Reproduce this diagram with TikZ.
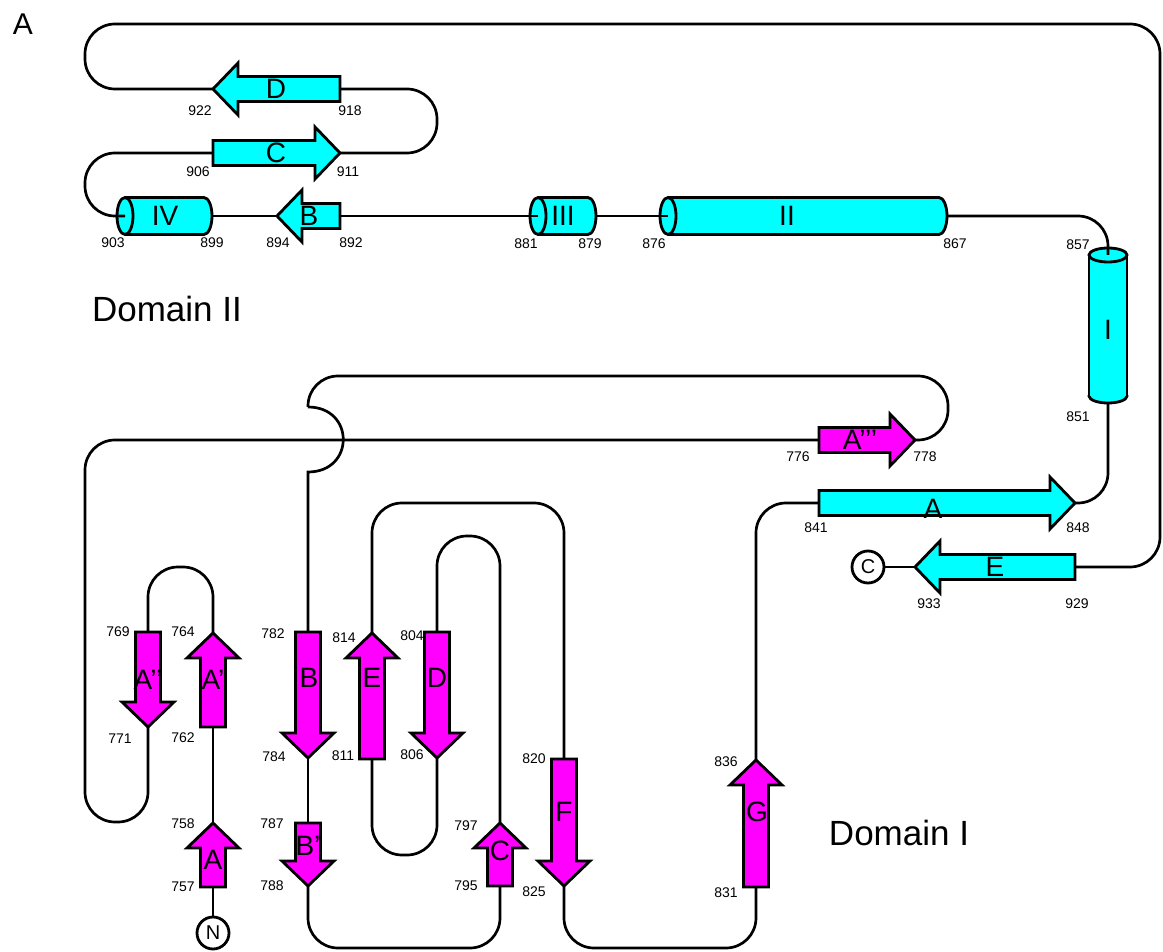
\documentclass[tikz,border=0pt]{standalone}
\usepackage{fontspec}
\setmainfont{Liberation Sans}
\usepackage{tikz}
\usetikzlibrary{calc}

\definecolor{sheetmag}{RGB}{255,0,255}
\definecolor{helixcyan}{RGB}{0,255,255}

% strand: name, colour, start, tip, label, label position
\newcommand{\strand}[6]{%
  \coordinate (#1-s) at #3;
  \coordinate (#1-e) at #4;
  \coordinate (#1-h) at ($(#1-e)!12.5pt!(#1-s)$);
  \draw[sheet, fill=#2] ($(#1-s)!6.25pt!90:(#1-e)$) -- ($(#1-h)!6.25pt!-90:(#1-s)$)
    -- ($(#1-h)!13pt!-90:(#1-s)$) -- (#1-e) -- ($(#1-h)!13pt!90:(#1-s)$)
    -- ($(#1-h)!6.25pt!90:(#1-s)$) -- ($(#1-s)!6.25pt!-90:(#1-e)$) -- cycle;
  \node[letter] (#1) at #6 {#5};
}

% horizontal helix: name, left x, right x, y, label, label x
\newcommand{\helixh}[6]{%
  \draw[helix] (#3-8,#4) ellipse [x radius=4pt, y radius=9.25pt];
  \fill[helixcyan] (#2+8,#4-18.5) rectangle (#3-8,#4+18.5);
  \draw[helix] (#2+8,#4-18.5) -- (#3-8,#4-18.5) (#2+8,#4+18.5) -- (#3-8,#4+18.5);
  \draw[helix] (#2+8,#4) ellipse [x radius=4pt, y radius=9.25pt];
  \coordinate (#1-l) at (#2+8,#4);
  \coordinate (#1-r) at (#3,#4);
  \node[letter] (#1) at (#6,#4) {#5};
}

\begin{document}
\begin{tikzpicture}[
  x=0.5pt, y=-0.5pt,
  sheet/.style={draw, line width=1.4pt, line join=miter},
  helix/.style={draw, line width=1.4pt, fill=helixcyan},
  backbone/.style={draw, line width=1.35pt, rounded corners=15pt},
  letter/.style={font=\fontsize{14}{16}\selectfont, inner sep=0pt},
  num/.style={font=\fontsize{7}{8}\selectfont, inner sep=0pt},
  term/.style={draw, circle, line width=1.4pt, fill=white, minimum size=16pt, inner sep=0pt, font=\fontsize{10}{12}\selectfont},
  domlabel/.style={font=\fontsize{17.5}{20}\selectfont}
]
\useasboundingbox (0,0) rectangle (1163,952);

\node[font=\fontsize{15}{17}\selectfont] (panel) at (23,24) {A};
\node[domlabel] (domII) at (167,309) {Domain II};
\node[domlabel] (domI) at (899,833) {Domain I};

% domain II
\helixh{h4}{117}{212}{216}{IV}{165}
\helixh{h3}{530}{596}{216}{III}{563}
\helixh{h2}{660}{947}{216}{II}{787}
\draw[helix] (1108,396) ellipse [x radius=9.5pt, y radius=3.5pt];
\fill[helixcyan] (1089,255) rectangle (1127,396);
\draw[helix] (1089,255) -- (1089,396) (1127,255) -- (1127,396);
\draw[helix] (1108,255) ellipse [x radius=9.5pt, y radius=3.5pt];
\coordinate (h1-t) at (1108,255);
\coordinate (h1-b) at (1108,403);
\node[letter] (h1) at (1108,330) {I};

\strand{bD}{helixcyan}{(340,89)}{(213,89)}{D}{(276,89)}
\strand{bC}{helixcyan}{(213,153)}{(340,153)}{C}{(276,153)}
\strand{bB}{helixcyan}{(340,216)}{(277,216)}{B}{(309,216)}
\strand{bA}{helixcyan}{(819,503)}{(1075,503)}{A}{(933,509)}
\strand{bE}{helixcyan}{(1075,567)}{(915,567)}{E}{(995,567)}

% domain I
\strand{aA}{sheetmag}{(213,887)}{(213,823)}{A}{(213,860)}
\strand{aA1}{sheetmag}{(213,727)}{(213,633)}{A’}{(213,680)}
\strand{aA2}{sheetmag}{(148,632)}{(148,727)}{A’’}{(148,680)}
\strand{aA3}{sheetmag}{(819,440)}{(915,440)}{A’’’}{(860,440)}
\strand{aB}{sheetmag}{(308,632)}{(308,758)}{B}{(309,678)}
\strand{aB1}{sheetmag}{(308,823)}{(308,886)}{B’}{(308,846)}
\strand{aC}{sheetmag}{(500,886)}{(500,823)}{C}{(500,851)}
\strand{aD}{sheetmag}{(437,632)}{(437,758)}{D}{(437,678)}
\strand{aE}{sheetmag}{(372,759)}{(372,633)}{E}{(372,678)}
\strand{aF}{sheetmag}{(564,759)}{(564,886)}{F}{(564,812)}
\strand{aG}{sheetmag}{(756,887)}{(756,760)}{G}{(757,812)}

\node[term] (ncirc) at (213,933) {N};
\node[term] (ccirc) at (868,567) {C};

% chain from N to C
\draw[backbone] (ncirc) -- (aA-s);
\draw[backbone] (aA-e) -- (aA1-s);
\draw[backbone] (aA1-e) -- (213,567) -- (148,567) -- (aA2-s);
\draw[backbone] (aA2-e) -- (148,822) -- (85,822) -- (85,440) -- (aA3-s);
\draw[backbone] (aA3-e) -- (948,440) -- (948,376) -- (308,376) -- (308,407);
\draw[backbone, sharp corners] (308,407) .. controls (355,407) and (355,472) .. (308,472) -- (aB-s);
\draw[backbone] (aB-e) -- (aB1-s);
\draw[backbone] (aB1-e) -- (308,948) -- (500,948) -- (aC-s);
\draw[backbone] (aC-e) -- (500,536) -- (437,536) -- (aD-s);
\draw[backbone] (aD-e) -- (437,855) -- (372,855) -- (aE-s);
\draw[backbone] (aE-e) -- (372,503) -- (564,503) -- (aF-s);
\draw[backbone] (aF-e) -- (564,948) -- (756,948) -- (aG-s);
\draw[backbone] (aG-e) -- (756,503) -- (bA-s);
\draw[backbone] (bA-e) -- (1108,503) -- (h1-b);
\draw[backbone] (h1-t) -- (1108,216) -- (h2-r);
\draw[backbone] (h2-l) -- (h3-r);
\draw[backbone] (h3-l) -- (bB-s);
\draw[backbone] (bB-e) -- (h4-r);
\draw[backbone] (h4-l) -- (85,216) -- (85,153) -- (bC-s);
\draw[backbone] (bC-e) -- (437,153) -- (437,89) -- (bD-s);
\draw[backbone] (bD-e) -- (85,89) -- (85,24) -- (1160,24) -- (1160,567) -- (bE-s);
\draw[backbone] (bE-e) -- (ccirc);

% residue numbers
\node[num] (n922) at (200,111) {922};
\node[num] (n918) at (350,111) {918};
\node[num] (n906) at (198,172) {906};
\node[num] (n911) at (348,172) {911};
\node[num] (n903) at (113,243) {903};
\node[num] (n899) at (212,243) {899};
\node[num] (n894) at (278,243) {894};
\node[num] (n892) at (351,243) {892};
\node[num] (n881) at (526,244) {881};
\node[num] (n879) at (590,244) {879};
\node[num] (n876) at (654,244) {876};
\node[num] (n867) at (955,244) {867};
\node[num] (n857) at (1078,245) {857};
\node[num] (n851) at (1078,417) {851};
\node[num] (n776) at (798,457) {776};
\node[num] (n778) at (925,457) {778};
\node[num] (n841) at (816,528) {841};
\node[num] (n848) at (1078,528) {848};
\node[num] (n933) at (929,604) {933};
\node[num] (n929) at (1077,604) {929};
\node[num] (n769) at (118,632) {769};
\node[num] (n764) at (183,632) {764};
\node[num] (n771) at (120,739) {771};
\node[num] (n762) at (183,738) {762};
\node[num] (n782) at (273,634) {782};
\node[num] (n814) at (344,638) {814};
\node[num] (n804) at (412,636) {804};
\node[num] (n784) at (274,757) {784};
\node[num] (n811) at (343,756) {811};
\node[num] (n806) at (412,755) {806};
\node[num] (n758) at (183,824) {758};
\node[num] (n787) at (272,824) {787};
\node[num] (n757) at (183,887) {757};
\node[num] (n788) at (272,886) {788};
\node[num] (n797) at (466,826) {797};
\node[num] (n795) at (466,886) {795};
\node[num] (n820) at (534,759) {820};
\node[num] (n825) at (534,892) {825};
\node[num] (n836) at (726,762) {836};
\node[num] (n831) at (726,893) {831};
\end{tikzpicture}
\end{document}
